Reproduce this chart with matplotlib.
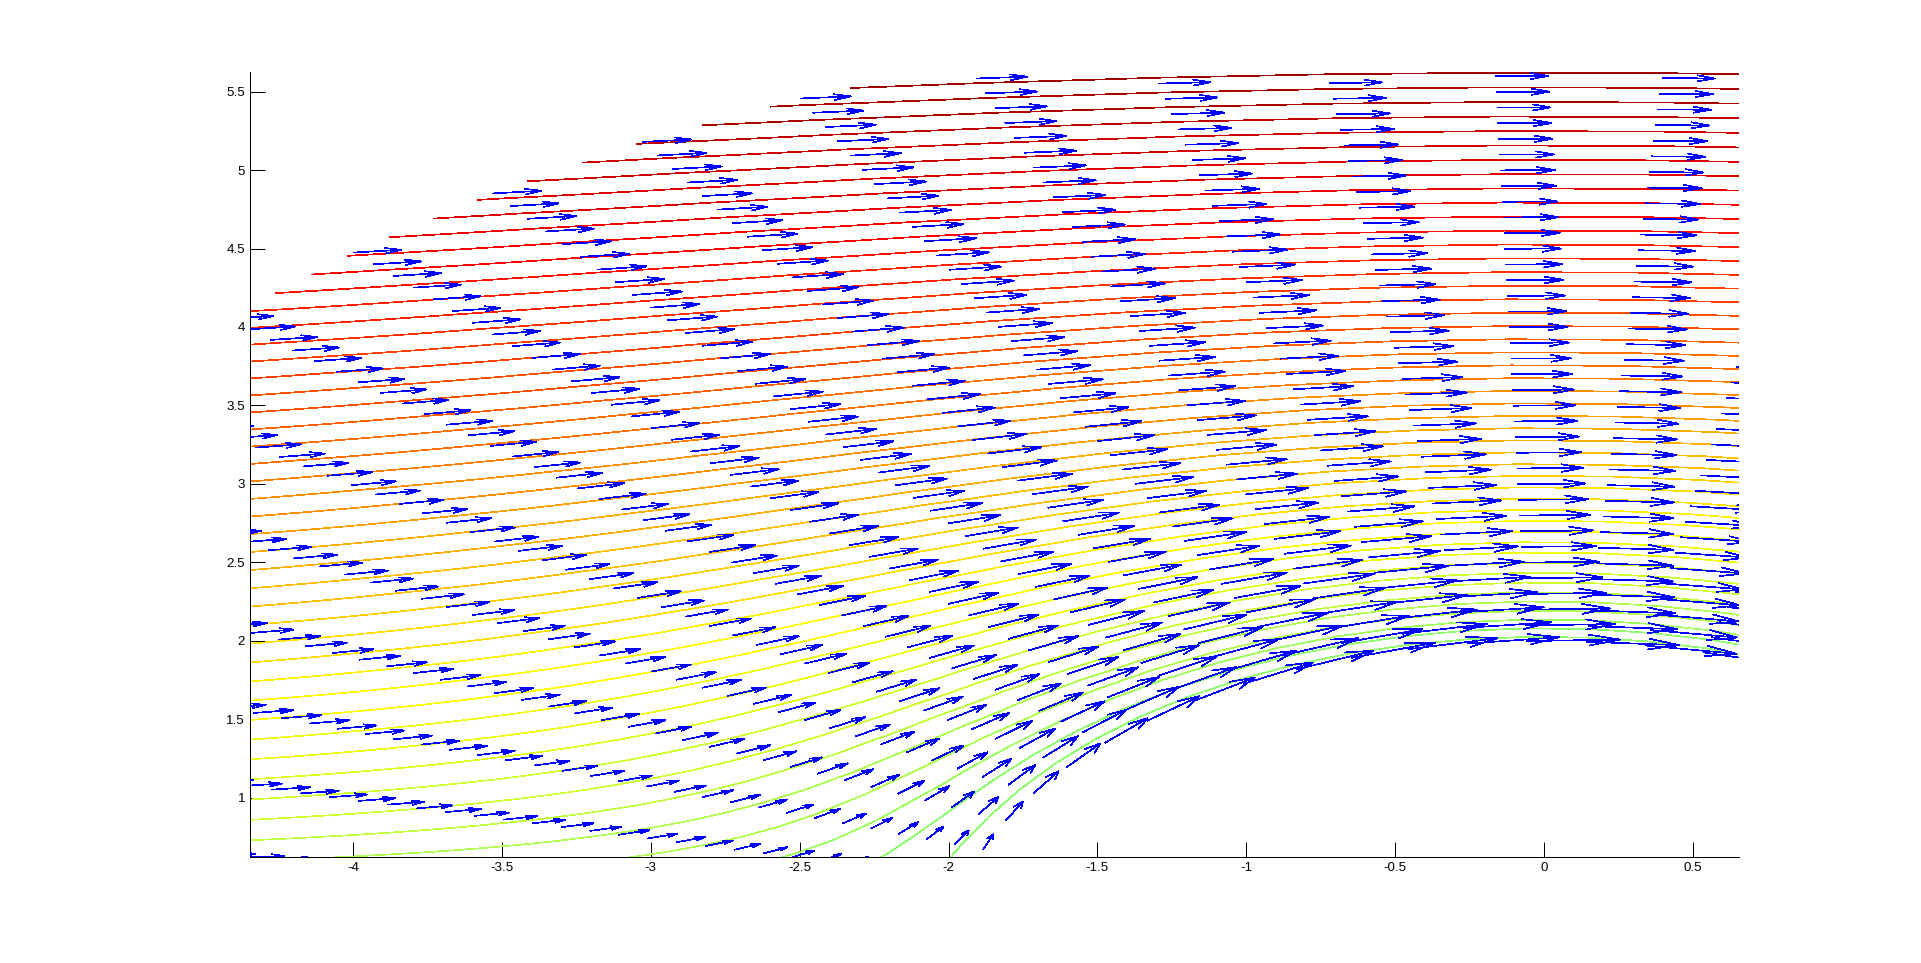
"""Potential flow past a cylinder: streamlines (contours of psi) plus velocity arrows."""

import matplotlib

matplotlib.use("Agg")

import matplotlib.pyplot as plt  # noqa: E402
import numpy as np  # noqa: E402
from matplotlib.collections import LineCollection  # noqa: E402
from matplotlib.ticker import FormatStrFormatter  # noqa: E402

# flow set-up: cylinder of radius a in a uniform stream U, polar grid r x theta
cyl_radius = 2.0
u_inf = 1.0
r_range = [2.0, 6.0, 0.1]  # start, stop, step
theta_range = [0.0, 2 * np.pi, 0.1]
n_levels = 100

# axes window and ticks
x_limits = [-4.347, 0.653]
y_limits = [0.623, 5.623]
x_ticks = [-4, -3.5, -3, -2.5, -2, -1.5, -1, -0.5, 0, 0.5]
y_ticks = [1, 1.5, 2, 2.5, 3, 3.5, 4, 4.5, 5, 5.5]

LW = 0.5  # thin, 1-pixel MATLAB-style lines


def matlab_jet(m=64):
    # same construction as MATLAB's jet(m)
    n = int(np.ceil(m / 4))
    u = np.concatenate([np.arange(1, n + 1) / n, np.ones(n - 1), np.arange(n, 0, -1) / n])
    g = int(np.ceil(n / 2)) - int(m % 4 == 1) + np.arange(1, len(u) + 1)
    r = g + n
    b = g - n
    J = np.zeros((m, 3))
    J[r[r <= m] - 1, 0] = u[r <= m]
    J[g[g <= m] - 1, 1] = u[g <= m]
    J[b[b >= 1] - 1, 2] = u[b >= 1]
    return J


r = np.arange(r_range[0], r_range[1] + r_range[2] / 2, r_range[2])
theta = np.arange(theta_range[0], theta_range[1], theta_range[2])
R, T = np.meshgrid(r, theta)
X = R * np.cos(T)
Y = R * np.sin(T)

a2 = cyl_radius**2
psi = u_inf * (R - a2 / R) * np.sin(T)
ur = u_inf * (1 - a2 / R**2) * np.cos(T)
ut = -u_inf * (1 + a2 / R**2) * np.sin(T)
U = ur * np.cos(T) - ut * np.sin(T)
V = ur * np.sin(T) + ut * np.cos(T)

# contour levels like contour(X, Y, psi, n): interior points of linspace(min, max)
zmin, zmax = float(psi.min()), float(psi.max())
levels = np.linspace(zmin, zmax, n_levels + 2)[1:-1]
jet = matlab_jet(64)
idx = np.clip(np.floor((levels - zmin) / (zmax - zmin) * 64).astype(int), 0, 63)
level_colors = [tuple(jet[i]) for i in idx]

# quiver autoscale (MATLAB style), heads drawn in data units
m, n = X.shape
delx = (X.max() - X.min()) / n
dely = (Y.max() - Y.min()) / m
scale = 0.9 * np.sqrt(delx**2 + dely**2) / np.sqrt(U**2 + V**2).max()
us = (U * scale).ravel()
vs = (V * scale).ravel()
xs = X.ravel()
ys = Y.ravel()
alpha, beta = 0.33, 0.33
shafts = np.stack([np.column_stack([xs, ys]), np.column_stack([xs + us, ys + vs])], axis=1)
heads = np.stack(
    [
        np.column_stack([xs + us - alpha * (us + beta * vs), ys + vs - alpha * (vs - beta * us)]),
        np.column_stack([xs + us, ys + vs]),
        np.column_stack([xs + us - alpha * (us - beta * vs), ys + vs - alpha * (vs + beta * us)]),
    ],
    axis=1,
)

plt.rcParams["font.family"] = ["Liberation Sans", "DejaVu Sans"]
plt.rcParams["font.size"] = 10

fig = plt.figure(figsize=(1921 / 96, 963 / 96), dpi=96)
ax = fig.add_axes([0.13, 0.11, 0.775, 0.815])

ax.contour(
    X,
    Y,
    psi,
    levels=levels,
    colors=level_colors,
    linewidths=LW,
    linestyles="solid",
    antialiased=False,
)
ax.add_collection(LineCollection(shafts, colors="b", linewidths=LW, antialiaseds=False, zorder=3))
ax.add_collection(LineCollection(heads, colors="b", linewidths=LW, antialiaseds=False, zorder=3))

ax.set_xlim(x_limits)
ax.set_ylim(y_limits)
ax.set_xticks(x_ticks)
ax.set_yticks(y_ticks)
ax.xaxis.set_major_formatter(FormatStrFormatter("%g"))
ax.yaxis.set_major_formatter(FormatStrFormatter("%g"))
ax.tick_params(direction="in", length=11.25, width=0.75, colors="k", top=False, right=False)
ax.tick_params(axis="y", pad=3.5)
ax.tick_params(axis="x", pad=4)
for side in ("top", "right"):
    ax.spines[side].set_visible(False)
for side in ("left", "bottom"):
    ax.spines[side].set_linewidth(0.75)

fig.savefig("out.png", dpi=96)
